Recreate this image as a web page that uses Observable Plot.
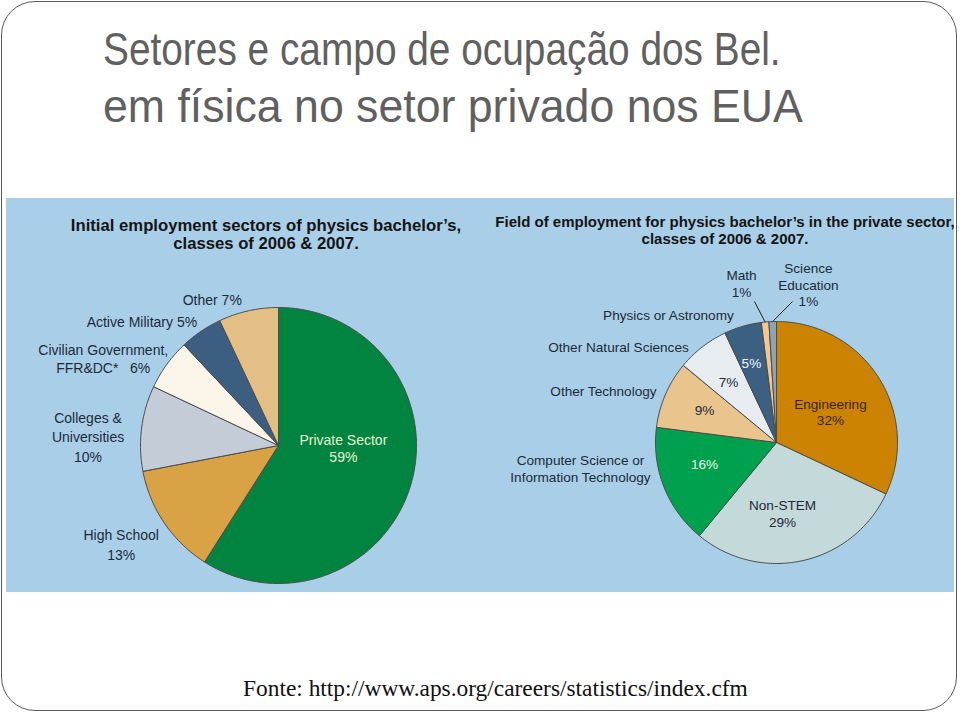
<!DOCTYPE html>
<html>
<head>
<meta charset="utf-8">
<script src="https://cdn.jsdelivr.net/npm/d3@7"></script>
<script src="https://cdn.jsdelivr.net/npm/@observablehq/plot@0.6"></script>
<style>
  html, body { margin: 0; padding: 0; background: #ffffff; }
  body { width: 960px; height: 714px; position: relative; overflow: hidden; }
  #slide { position: absolute; left: 1px; top: 1px; width: 954px; height: 708px;
           border: 1.5px solid #5a5a5a; border-radius: 34px; }
  #title { position: absolute; left: 103px; top: 20px; margin: 0; white-space: nowrap;
           font-family: "Liberation Sans Narrow", "Arial Narrow", "Liberation Sans", sans-serif;
           font-weight: normal; font-size: 47px; line-height: 57px; color: #606060; }
  #title span { display: block; transform-origin: 0 0; }
  #title .l1 { transform: scaleX(0.826); }
  #title .l2 { transform: scaleX(0.95); }
  #charts { position: absolute; left: 6px; top: 198px; display: flex; }
  #charts svg { display: block; }
  #caption { position: absolute; left: 243px; top: 675px; margin: 0; white-space: nowrap;
             font-family: "Liberation Serif", "DejaVu Serif", serif; font-size: 23.4px; color: #111; }
</style>
</head>
<body>
<div id="slide"></div>
<h1 id="title"><span class="l1">Setores e campo de ocupação dos Bel.</span><span class="l2">em física no setor privado nos EUA</span></h1>
<div id="charts"></div>
<p id="caption">Fonte: http://www.aps.org/careers/statistics/index.cfm</p>
<script>
// ---- data: left pie (initial employment sectors) ----
const sectorCategories = ["Private Sector", "High School", "Colleges & Universities",
  "Civilian Government, FFR&DC*", "Active Military", "Other"];
const sectorValues = [59, 13, 10, 6, 5, 7];
const sectorLabels = ["Private Sector\n59%", "High School\n13%", "Colleges &\nUniversities\n10%",
  "Civilian Government,\nFFR&DC*   6%", "Active Military 5%", "Other 7%"];
const sectorTitle = "Initial employment sectors of physics bachelor\u2019s,\nclasses of 2006 & 2007.";

// ---- data: right pie (field of employment in private sector) ----
const fieldCategories = ["Engineering", "Non-STEM", "Computer Science or Information Technology",
  "Other Technology", "Other Natural Sciences", "Physics or Astronomy", "Math", "Science Education"];
const fieldValues = [32, 29, 16, 9, 7, 5, 1, 1];
const fieldTitle = "Field of employment for physics bachelor\u2019s in the private sector,\nclasses of 2006 & 2007.";

// ---- styles ----
const sectorColors = ["#00843f", "#d9a345", "#c4cdd7", "#fbf4e8", "#3c5f81", "#e4bf85"];
const fieldColors = ["#cc8302", "#c4d9d9", "#00a14e", "#e9c48d", "#e7ecf0", "#3b6082", "#f1c88f", "#8fa3b6"];
const panelBg = "#a9cfe8";
const labelColor = "#1c2a38";

// label layout (in pie-radius units, relative to the pie centre; y up)
const sectorLabelLayout = [
  {dx: 0.47, dy: -0.02, fill: "#e6f4d6"},
  {dx: -1.14, dy: -0.71, lh: 1.4},
  {dx: -1.38, dy: 0.07, lh: 1.4},
  {dx: -1.27, dy: 0.63},
  {dx: -0.99, dy: 0.90},
  {dx: -0.48, dy: 1.06}
];
const fieldLabelLayout = [
  {text: "Engineering\n32%", dx: 0.446, dy: 0.256, fill: "#3a2300"},
  {text: "Non-STEM\n29%", dx: 0.05, dy: -0.583},
  {text: "16%", dx: -0.595, dy: -0.174, fill: "#e8f6e4"},
  {text: "9%", dx: -0.595, dy: 0.273},
  {text: "7%", dx: -0.397, dy: 0.504},
  {text: "5%", dx: -0.207, dy: 0.661, fill: "#f2f6fa"},
  {text: "Computer Science or\nInformation Technology", dx: -1.62, dy: -0.211},
  {text: "Other Technology", dx: -1.43, dy: 0.43},
  {text: "Other Natural Sciences", dx: -1.306, dy: 0.793},
  {text: "Physics or Astronomy", dx: -0.893, dy: 1.058},
  {text: "Math\n1%", dx: -0.289, dy: 1.318, leader: 6, lx: -0.182, ly: 1.165},
  {text: "Science\nEducation\n1%", dx: 0.264, dy: 1.306, leader: 7, lx: 0.132, ly: 1.165}
];

function slicePoints(cats, vals) {
  const total = d3.sum(vals);
  let acc = 0;
  return cats.map((c, i) => {
    const a0 = acc / total * 2 * Math.PI;
    acc += vals[i];
    const a1 = acc / total * 2 * Math.PI;
    const n = Math.max(2, Math.ceil((a1 - a0) / (Math.PI / 180)));
    const pts = [{key: c, x: 0, y: 0}];
    for (let k = 0; k <= n; k++) {
      const a = a0 + (a1 - a0) * k / n;
      pts.push({key: c, x: Math.sin(a), y: Math.cos(a)});
    }
    pts.push({key: c, x: 0, y: 0});
    return {key: c, mid: (a0 + a1) / 2, pts};
  });
}

function pie({cats, vals, colors, width, height, cx, cy, r, title, titleSize, titleDx, titleDy, labels, labelSize}) {
  const sl = slicePoints(cats, vals);
  const marks = sl.map((s, i) => Plot.line(s.pts, {x: "x", y: "y", fill: colors[i],
    stroke: "#4b4b4b", strokeWidth: 1, strokeLinejoin: "round"}));
  marks.push(Plot.text([title], {frameAnchor: "top", dx: titleDx, dy: titleDy, lineAnchor: "top",
    text: d => d, fontSize: titleSize, fontWeight: "bold", fill: "#141414", lineHeight: 1.12,
    fontFamily: "Liberation Sans, Arial, sans-serif"}));
  labels.forEach(l => {
    marks.push(Plot.text([l], {x: "dx", y: "dy", text: "text", fontSize: labelSize, fill: l.fill || labelColor,
      lineHeight: l.lh || 1.22, fontFamily: "Liberation Sans, Arial, sans-serif"}));
    if (l.leader != null) {
      const m = sl[l.leader].mid;
      marks.push(Plot.link([l], {x1: "lx", y1: "ly", x2: () => Math.sin(m) * 1.0, y2: () => Math.cos(m) * 1.0,
        stroke: "#222", strokeWidth: 1}));
    }
  });
  return Plot.plot({
    width, height, margin: 0,
    style: {background: panelBg, overflow: "visible"},
    x: {domain: [-cx / r, (width - cx) / r], axis: null},
    y: {domain: [-(height - cy) / r, cy / r], axis: null},
    marks
  });
}

const leftLabels = sectorLabels.map((t, i) => ({text: t, ...sectorLabelLayout[i]}));

const charts = document.getElementById("charts");
charts.append(pie({cats: sectorCategories, vals: sectorValues, colors: sectorColors,
  width: 485, height: 394, cx: 272, cy: 247, r: 138,
  title: sectorTitle, titleSize: 16.7, titleDx: 17, titleDy: 19, labels: leftLabels, labelSize: 14}));
charts.append(pie({cats: fieldCategories, vals: fieldValues, colors: fieldColors,
  width: 463, height: 394, cx: 285, cy: 244, r: 121,
  title: fieldTitle, titleSize: 15, titleDx: 2, titleDy: 17, labels: fieldLabelLayout, labelSize: 13.6}));
</script>
</body>
</html>
